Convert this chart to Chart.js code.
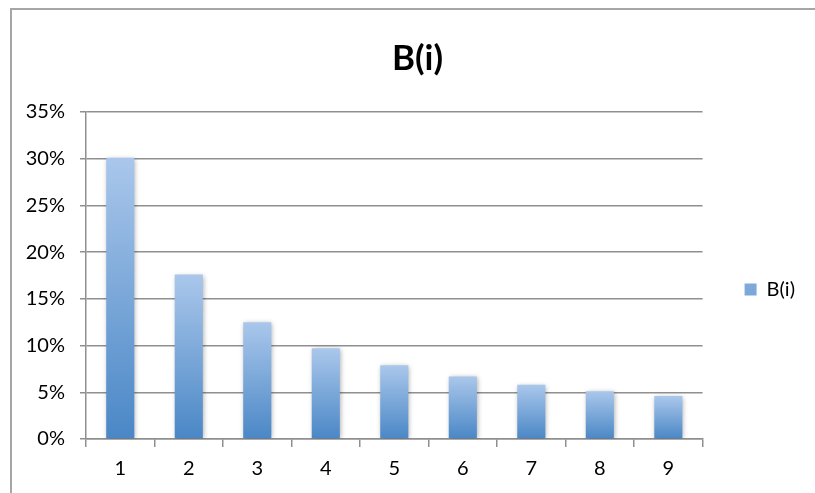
<!DOCTYPE html>
<html>
<head>
<meta charset="utf-8">
<title>B(i)</title>
<script src="https://cdn.jsdelivr.net/npm/chart.js@4.4.1/dist/chart.umd.min.js"></script>
<style>
  html, body { margin: 0; padding: 0; background: #ffffff; }
  #wrap { width: 815px; height: 493px; position: relative; }
</style>
</head>
<body>
<div id="wrap"><canvas id="chart" width="815" height="493"></canvas></div>
<script>
// Leading-digit probabilities B(i), in percent
const digits = ['1', '2', '3', '4', '5', '6', '7', '8', '9'];
const bValues = [30.1, 17.6, 12.5, 9.7, 7.9, 6.7, 5.8, 5.1, 4.6];
const yTicks = [0, 5, 10, 15, 20, 25, 30, 35];
const seriesName = 'B(i)';
const chartTitle = 'B(i)';

const FONT = 'Lato, "Open Sans", "DejaVu Sans", sans-serif';
const GRID = '#8f8f8f';

// Vertical gradient per bar: light at the top, deeper blue at the base
function barFill(ctx) {
  const chart = ctx.chart;
  const area = chart.chartArea;
  if (!area || ctx.type !== 'data') return '#7ba7dc';
  const y = chart.scales.y;
  const top = y.getPixelForValue(ctx.raw);
  const base = y.getPixelForValue(0);
  const g = chart.ctx.createLinearGradient(0, top, 0, base);
  g.addColorStop(0, '#aac7eb');
  g.addColorStop(1, '#4a87c6');
  return g;
}

// Frame lines on the left and top edges of the drawing
const framePlugin = {
  id: 'frame',
  beforeDraw(chart) {
    const c = chart.ctx;
    c.save();
    c.fillStyle = '#ffffff';
    c.fillRect(0, 0, chart.width, chart.height);
    c.strokeStyle = '#a6a6a6';
    c.lineWidth = 2;
    c.beginPath();
    c.moveTo(11, chart.height);
    c.lineTo(11, 9);
    c.lineTo(chart.width, 9);
    c.stroke();
    c.restore();
  }
};

// Soft shadow behind the bars
const shadowPlugin = {
  id: 'barShadow',
  beforeDatasetsDraw(chart) {
    const c = chart.ctx;
    c.save();
    c.shadowColor = 'rgba(0,0,0,0.35)';
    c.shadowBlur = 5;
    c.shadowOffsetX = 1;
    c.shadowOffsetY = 1;
  },
  afterDatasetsDraw(chart) {
    chart.ctx.restore();
  }
};

// Legend sits a little away from the plot area, level with its middle;
// the title is centred on the whole frame rather than the padded box
const placement = {
  id: 'placement',
  afterLayout(chart) {
    const l = chart.legend;
    if (l) {
      const dx = 32, dy = 43;
      l.left += dx; l.right += dx;
      l.top += dy; l.bottom += dy;
    }
    const t = chart.titleBlock;
    if (t) {
      const tx = 21;
      t.left += tx; t.right += tx;
    }
  }
};

new Chart(document.getElementById('chart'), {
  type: 'bar',
  data: {
    labels: digits,
    datasets: [{
      label: seriesName,
      data: bValues,
      backgroundColor: barFill,
      borderWidth: 0,
      barPercentage: 0.41,
      categoryPercentage: 1.0
    }]
  },
  options: {
    responsive: false,
    animation: false,
    devicePixelRatio: 1,
    layout: { padding: { left: 20, right: 42, top: 0, bottom: 0 } },
    plugins: {
      title: {
        display: true,
        text: chartTitle,
        color: '#000000',
        font: { family: FONT, size: 35, weight: 'bold' },
        padding: { top: 38, bottom: 32 }
      },
      legend: {
        display: true,
        position: 'right',
        labels: {
          boxWidth: 12,
          boxHeight: 12,
          color: '#000000',
          font: { family: FONT, size: 20 },
          padding: 10
        }
      },
      tooltip: { enabled: false }
    },
    scales: {
      x: {
        offset: true,
        grid: {
          offset: true,
          drawOnChartArea: false,
          drawTicks: true,
          tickLength: 8,
          color: GRID,
          lineWidth: 1.5
        },
        border: { display: true, color: GRID, width: 1.5 },
        ticks: {
          color: '#000000',
          font: { family: FONT, size: 20 },
          padding: 10
        },
        afterFit(scale) { scale.height = 54; }
      },
      y: {
        min: 0,
        max: 35,
        afterBuildTicks(scale) {
          scale.ticks = yTicks.map(v => ({ value: v }));
        },
        grid: {
          color: GRID,
          lineWidth: 1.5,
          drawTicks: true,
          tickLength: 6
        },
        border: { display: true, color: GRID, width: 1.5 },
        ticks: {
          color: '#000000',
          font: { family: FONT, size: 20 },
          padding: 15,
          callback: v => v + '%'
        },
        afterFit(scale) { scale.width = 66; }
      }
    }
  },
  plugins: [framePlugin, shadowPlugin, placement]
});
</script>
</body>
</html>
